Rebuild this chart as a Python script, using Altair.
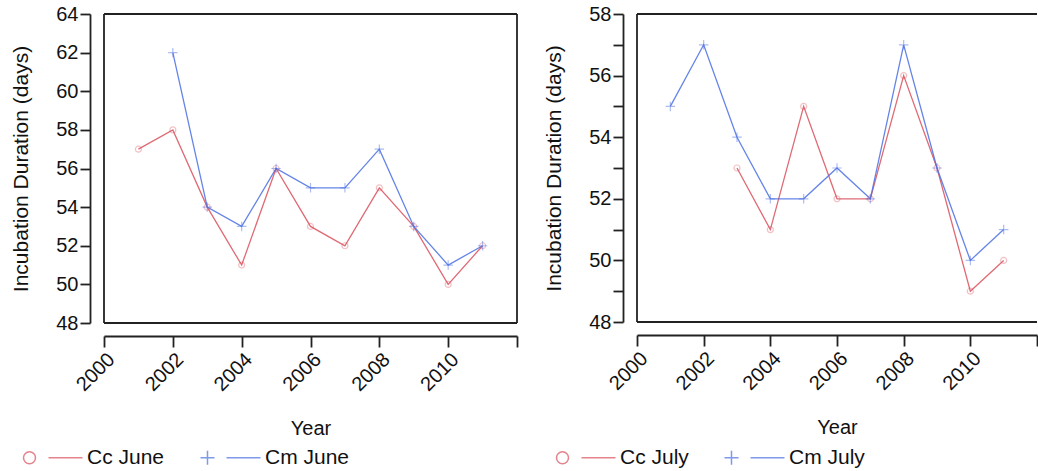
import altair as alt
import pandas as pd

# ---------------- data ----------------
june_cc_years = [2001, 2002, 2003, 2004, 2005, 2006, 2007, 2008, 2009, 2010, 2011]
june_cc_values = [57, 58, 54, 51, 56, 53, 52, 55, 53, 50, 52]
june_cm_years = [2002, 2003, 2004, 2005, 2006, 2007, 2008, 2009, 2010, 2011]
june_cm_values = [62, 54, 53, 56, 55, 55, 57, 53, 51, 52]

july_cc_years = [2003, 2004, 2005, 2006, 2007, 2008, 2009, 2010, 2011]
july_cc_values = [53, 51, 55, 52, 52, 56, 53, 49, 50]
july_cm_years = [2001, 2002, 2003, 2004, 2005, 2006, 2007, 2008, 2009, 2010, 2011]
july_cm_values = [55, 57, 54, 52, 52, 53, 52, 57, 53, 50, 51]

june_series = ["Cc June", "Cm June"]
july_series = ["Cc July", "Cm July"]

x_ticks = [2000, 2002, 2004, 2006, 2008, 2010, 2012]
june_y_ticks = [48, 50, 52, 54, 56, 58, 60, 62, 64]
july_y_ticks = [48, 49, 50, 51, 52, 53, 54, 55, 56, 57, 58]
x_title = "Year"
y_title = "Incubation Duration (days)"

# ---------------- styles ----------------
RED = "#d9505c"
BLUE = "#4a6fe3"
INK = "#222222"
TXT = "#111111"
FONT = "Liberation Sans"
FS = 20

PLUS = "M -1 0 L 1 0 M 0 -1 L 0 1"
CIRCLE_LINE = "M -10.4 0 A 1.2 1.2 0 1 1 -8 0 A 1.2 1.2 0 1 1 -10.4 0 M -5.4 0 L 1.4 0"
PLUS_LINE = "M -10.6 0 L -7.8 0 M -9.2 -1.4 L -9.2 1.4 M -5.4 0 L 1.4 0"


def make_df(cc_years, cc_vals, cm_years, cm_vals, names):
    rows = [{"year": y, "value": v, "series": names[0]} for y, v in zip(cc_years, cc_vals)]
    rows += [{"year": y, "value": v, "series": names[1]} for y, v in zip(cm_years, cm_vals)]
    return pd.DataFrame(rows)


def panel(df, names, ydom, yticks, width, height, right_side):
    x = alt.X(
        "year:Q",
        scale=alt.Scale(domain=[2000, 2012], nice=False, zero=False),
        axis=alt.Axis(
            values=x_ticks, format="d", labelAngle=-45,
            labelExpr="datum.value > 2011 ? '' : datum.label",
            labelFontSize={"condition": {"test": "datum.value > 2011", "value": 0}, "value": FS},
            offset=13, tickSize=11, labelPadding=2, titlePadding=24,
        ),
        title=x_title,
    )
    y = alt.Y(
        "value:Q",
        scale=alt.Scale(domain=ydom, nice=False, zero=False),
        axis=alt.Axis(
            values=yticks,
            labelExpr="datum.value % 2 == 0 ? datum.label : ''",
            labelFontSize=FS,
            offset=14, tickSize=10, labelPadding=2, titlePadding=24,
            titleFontSize=21,
        ),
        title=y_title,
    )
    base = alt.Chart(df)
    cc = base.transform_filter(alt.datum.series == names[0])
    cm = base.transform_filter(alt.datum.series == names[1])

    cc_line = cc.mark_line(color=RED, strokeWidth=1.3, opacity=0.85).encode(x=x, y=y)
    cm_line = cm.mark_line(color=BLUE, strokeWidth=1.3, opacity=0.85).encode(x=x, y=y)
    cc_pts = cc.mark_point(shape="circle", filled=False, size=36, color=RED,
                           opacity=0.35, strokeWidth=1.2).encode(x=x, y=y)
    cm_pts = cm.mark_point(shape=PLUS, filled=False, size=90, color=BLUE,
                           opacity=0.45, strokeWidth=1.2).encode(x=x, y=y)

    leg = alt.Legend(
        orient="none", legendX=-39, legendY=433, direction="horizontal", title=None,
        labelFontSize=21, labelFont=FONT, labelColor=TXT, symbolSize=100,
        symbolStrokeWidth=1.5, labelOffset=1, columnPadding=32, padding=0,
    )
    legend_layer = base.transform_filter("datum.value > 999").mark_point(
        filled=False, size=100, strokeWidth=1.5
    ).encode(
        color=alt.Color("series:N", scale=alt.Scale(domain=names, range=[RED, BLUE]), legend=leg),
        shape=alt.Shape("series:N", scale=alt.Scale(domain=names, range=[CIRCLE_LINE, PLUS_LINE]), legend=leg),
    )

    one = alt.Chart(pd.DataFrame({"k": [0]}))
    frame = [
        one.mark_rule(color=INK, strokeWidth=1.8).encode(x=alt.value(0), x2=alt.value(width), y=alt.value(0)),
        one.mark_rule(color=INK, strokeWidth=1.8).encode(x=alt.value(0), x2=alt.value(width), y=alt.value(height)),
        one.mark_rule(color=INK, strokeWidth=1.8).encode(x=alt.value(0), y=alt.value(0), y2=alt.value(height)),
    ]
    if right_side:
        frame.append(one.mark_rule(color=INK, strokeWidth=1.8).encode(
            x=alt.value(width), y=alt.value(0), y2=alt.value(height)))

    return alt.layer(cc_line, cm_line, cc_pts, cm_pts, legend_layer, *frame).properties(
        width=width, height=height
    )


june_df = make_df(june_cc_years, june_cc_values, june_cm_years, june_cm_values, june_series)
july_df = make_df(july_cc_years, july_cc_values, july_cm_years, july_cm_values, july_series)

left = panel(june_df, june_series, [48, 64], june_y_ticks, 413, 309, True)
right = panel(july_df, july_series, [48, 58], july_y_ticks, 400, 308, False)

chart = alt.hconcat(left, right, spacing=25).resolve_scale(
    color="independent", shape="independent"
).resolve_legend(
    color="independent", shape="independent"
).properties(
    padding={"left": 10, "top": 4, "right": 0, "bottom": 0},
    background="white",
).configure_view(strokeWidth=0).configure_axis(
    grid=False,
    domainColor=INK, domainWidth=1.8,
    tickColor=INK, tickWidth=1.8,
    labelFont=FONT, labelColor=TXT,
    titleFont=FONT, titleFontSize=FS, titleColor=TXT, titleFontWeight="normal",
).configure_legend(labelLimit=300)

chart.save("out.html", embed_options={"renderer": "svg", "actions": False})
